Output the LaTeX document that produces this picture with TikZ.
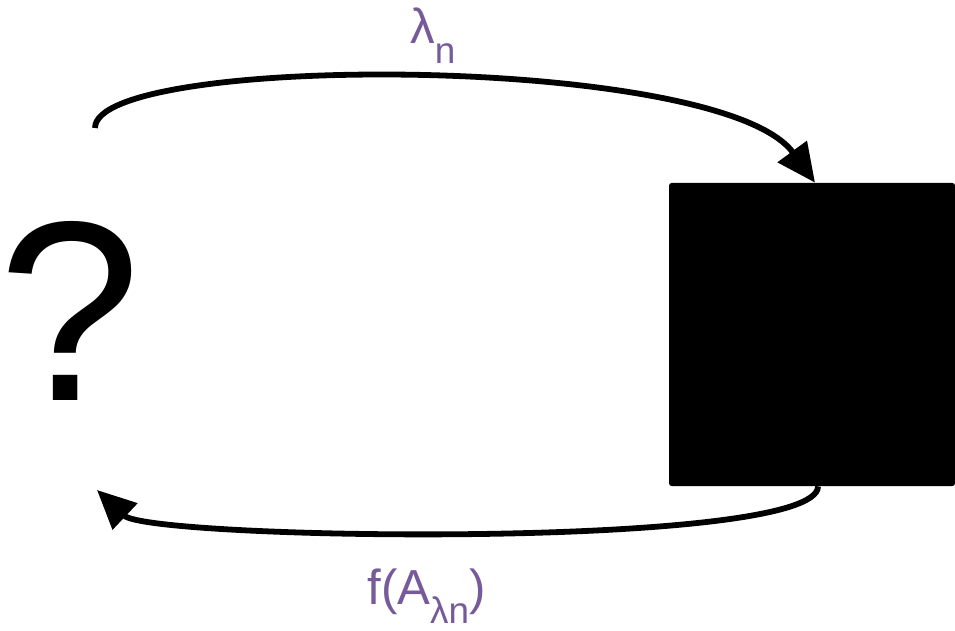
\documentclass[tikz,border=0pt]{standalone}
\usepackage{fontspec}
\setmainfont{Liberation Sans}
\usepackage{tikz}
\usetikzlibrary{arrows.meta,positioning}
\definecolor{LabPurple}{HTML}{775A9A}
\newcommand{\lowsub}[1]{\raisebox{-11pt}{\fontsize{21}{21}\selectfont #1}}

\begin{document}
\begin{tikzpicture}[x=0.02cm, y=-0.02cm, every node/.style={inner sep=0pt}, lbl/.style={font=\fontsize{28}{28}\selectfont,text=LabPurple,anchor=base west}, a/.style={-{Triangle[length=22pt,width=20pt]},line width=3.3pt,black}]
\useasboundingbox (0,0) rectangle (955,631);
\node[anchor=base,font=\fontsize{146}{146}\selectfont] (q) at (70,400) {?};
\node[fill=black,rounded corners=1.5pt,minimum width=286*0.02cm,minimum height=303*0.02cm] (box) at (812,334.5) {};
\coordinate (qtop) at (95,128);
\coordinate (qbot) at (97,490);
\node[lbl] (lam) at (410,44) {λ\lowsub{n}};
\node[lbl] (fa) at (367,604) {f(A\lowsub{λn})};
\draw[a] (qtop) .. controls (95,53) and (720,53) .. ([xshift=3*0.02cm]box.north);
\draw[a] ([xshift=6*0.02cm]box.south) .. controls (818,550) and (150,540) .. (qbot);
\end{tikzpicture}
\end{document}
